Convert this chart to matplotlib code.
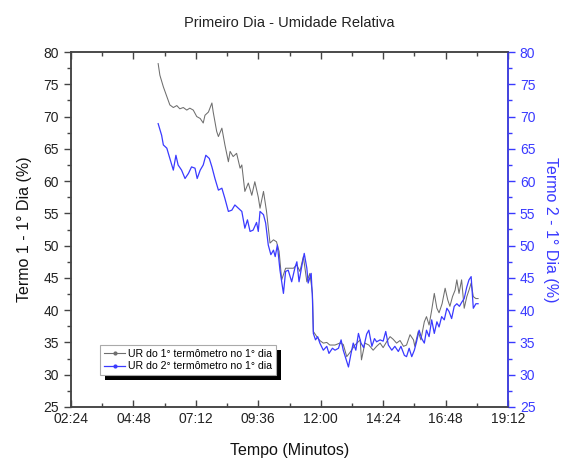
import matplotlib.pyplot as plt
from matplotlib.lines import Line2D
from matplotlib.patches import Rectangle
from matplotlib.transforms import IdentityTransform
from matplotlib.ticker import MultipleLocator, FuncFormatter

plt.rcParams['font.family'] = ['Liberation Sans', 'DejaVu Sans']

# time of day in minutes, relative humidity (%)
t1 = [345, 349, 357, 365, 372, 380, 388, 395, 403, 411, 418, 426, 434, 442, 449,
      453, 461, 469, 472, 480, 484, 492, 499, 507, 511, 518, 526, 534, 538, 545,
      553, 561, 568, 576, 580, 588, 595, 603, 611, 618, 624, 630, 639, 649, 657,
      665, 672, 680, 688, 695, 701, 703, 711, 718, 726, 734, 741, 753, 764, 772,
      780, 788, 799, 811, 814, 822, 831, 841, 849, 857, 864, 872, 880, 887, 895,
      903, 911, 918, 926, 934, 937, 945, 951, 959, 964, 970, 976, 982, 988, 993,
      1000, 1007, 1013, 1018, 1024, 1030, 1034, 1039, 1045, 1051, 1057, 1062,
      1067, 1072, 1078, 1083]
ur1 = [78.2, 76.4, 74.6, 73.1, 71.8, 71.4, 71.7, 71.2, 71.4, 71.0, 71.3, 71.0, 70.0, 69.7, 69.0,
       70.2, 70.7, 72.1, 70.7, 67.7, 66.9, 68.2, 65.6, 63.0, 64.6, 63.8, 64.3, 62.0, 62.5, 58.4,
       59.7, 57.8, 59.9, 57.5, 55.8, 58.4, 55.3, 50.4, 50.9, 50.6, 49.1, 44.7, 46.5, 46.5, 46.5,
       47.0, 46.0, 48.3, 44.4, 45.7, 42.6, 36.7, 35.9, 35.3, 34.9, 35.0, 34.6, 34.6, 34.9, 34.7,
       32.8, 33.5, 34.6, 35.4, 32.3, 34.9, 34.6, 33.8, 34.4, 34.9, 34.2, 35.1, 35.9, 35.5, 34.9,
       35.3, 34.4, 34.6, 36.2, 35.4, 34.4, 36.7, 35.4, 38.2, 39.0, 37.7, 40.0, 42.6, 40.3, 39.6,
       41.0, 43.4, 41.6, 40.6, 42.1, 43.1, 44.7, 42.6, 44.7, 40.3, 42.1, 43.1,
       44.2, 42.1, 41.8, 41.8]

t2 = [345, 353, 357, 365, 372, 380, 386, 391, 399, 407, 415, 422, 430, 435, 442,
      449, 455, 463, 469, 476, 484, 492, 499, 507, 515, 522, 530, 538, 545, 551,
      557, 564, 572, 576, 580, 588, 593, 599, 605, 611, 615, 620, 626, 634, 639,
      645, 653, 661, 665, 670, 676, 682, 688, 691, 698, 701, 703, 708, 713, 718,
      726, 734, 739, 747, 753, 761, 767, 772, 778, 784, 790, 795, 801, 807, 813,
      819, 826, 831, 838, 844, 849, 857, 864, 870, 876, 884, 891, 899, 905, 913,
      918, 924, 930, 936, 941, 947, 953, 959, 964, 970, 976, 982, 988, 993, 999,
      1005, 1011, 1016, 1022, 1028, 1034, 1040, 1045, 1051, 1057, 1062, 1067,
      1072, 1078, 1083]
ur2 = [68.9, 67.1, 65.6, 65.1, 63.5, 61.7, 64.0, 62.5, 61.7, 60.4, 61.2, 62.2, 62.0, 60.4, 61.7,
       62.5, 64.0, 63.5, 62.2, 60.4, 58.6, 58.9, 57.3, 55.3, 55.5, 56.3, 55.8, 55.3, 52.7, 54.0,
       52.2, 52.4, 53.6, 52.2, 55.3, 54.8, 53.5, 50.1, 48.6, 49.3, 48.3, 50.1, 46.2, 42.6, 46.0,
       46.2, 44.4, 46.7, 47.5, 44.4, 46.7, 48.8, 46.5, 44.2, 45.7, 41.6, 36.4, 35.4, 35.9, 34.9,
       33.8, 34.4, 33.3, 34.1, 33.8, 34.1, 35.4, 33.8, 32.5, 31.2, 33.3, 34.9, 33.8, 36.4, 34.9,
       34.2, 36.3, 36.9, 34.4, 35.6, 35.1, 35.4, 35.2, 36.7, 34.6, 33.8, 34.4, 33.6, 34.4, 33.0,
       32.8, 34.1, 32.8, 33.8, 35.1, 36.9, 35.6, 34.9, 36.9, 35.9, 38.5, 36.4, 38.2, 37.4, 39.0,
       38.5, 40.3, 39.8, 38.7, 40.6, 41.0, 40.6, 41.2, 41.8, 43.6, 44.7, 45.2,
       40.3, 41.0, 41.0]

labels = ['UR do 1° termômetro no 1° dia', 'UR do 2° termômetro no 1° dia']
c1 = '#6e6e6e'
c2 = '#3a3aff'
axc = '#444444'


def hhmm(v, pos=None):
    v = int(round(v))
    return f"{v // 60:02d}:{v % 60:02d}"


fig = plt.figure(figsize=(5.61, 4.59), dpi=100)
ax = fig.add_axes([0.1266, 0.1133, 0.7789, 0.7734])
ax2 = ax.twinx()

ax.plot(t1, ur1, color=c1, lw=0.75)
ax2.plot(t2, ur2, color=c2, lw=0.9)

for a in (ax, ax2):
    a.set_xlim(144, 1152)
    a.set_ylim(25, 80)
    a.yaxis.set_major_locator(MultipleLocator(5))
    a.yaxis.set_minor_locator(MultipleLocator(2.5))
    for s in a.spines.values():
        s.set_color(axc)
        s.set_linewidth(1.1)

ax.xaxis.set_major_locator(MultipleLocator(144))
ax.xaxis.set_minor_locator(MultipleLocator(72))
ax.xaxis.set_major_formatter(FuncFormatter(hhmm))
ax.tick_params(axis='x', which='both', direction='in', top=True, colors=axc,
               labelcolor='#222222', labelsize=10)
ax.tick_params(axis='x', which='major', length=5, width=1)
ax.tick_params(axis='x', which='minor', length=3, width=1)
ax.tick_params(axis='y', which='both', direction='out', colors=axc,
               labelcolor='#222222', labelsize=10)
ax.tick_params(axis='y', which='major', length=5, width=1)
ax.tick_params(axis='y', which='minor', length=3, width=1)

ax2.spines['right'].set_color(c2)
ax2.tick_params(axis='y', which='both', direction='out', colors=c2, labelsize=10)
ax2.tick_params(axis='y', which='major', length=5, width=1)
ax2.tick_params(axis='y', which='minor', length=3, width=1)

ax.set_title('Primeiro Dia - Umidade Relativa', fontsize=10.5, color='#222222', pad=18)
ax.set_xlabel('Tempo (Minutos)', fontsize=11.5, color='#111111', labelpad=12)
ax.set_ylabel('Termo 1 - 1° Dia (%)', fontsize=11.5, color='#111111', labelpad=8)
ax2.set_ylabel('Termo 2 - 1° Dia (%)', fontsize=11.5, color=c2, rotation=270, labelpad=16)

handles = [Line2D([], [], color=c1, lw=0.8, marker='o', markersize=2),
           Line2D([], [], color=c2, lw=0.9, marker='o', markersize=2)]
leg = ax2.legend(handles, labels, loc='lower left', bbox_to_anchor=(0.055, 0.075),
                 fontsize=7.6, frameon=True, fancybox=False, framealpha=1,
                 handlelength=2.0, handletextpad=0.3, borderpad=0.35,
                 labelspacing=0.25)
leg.get_frame().set_edgecolor('#aaaaaa')
leg.get_frame().set_linewidth(0.8)
leg.set_zorder(6)

# solid drop shadow behind the legend box
fig.canvas.draw()
bb = leg.get_frame().get_window_extent()
ax2.add_patch(Rectangle((bb.x0 + 5, bb.y0 - 5), bb.width, bb.height,
                        transform=IdentityTransform(), facecolor='black',
                        edgecolor='none', zorder=5.5))

fig.savefig('out.png', dpi=100)
